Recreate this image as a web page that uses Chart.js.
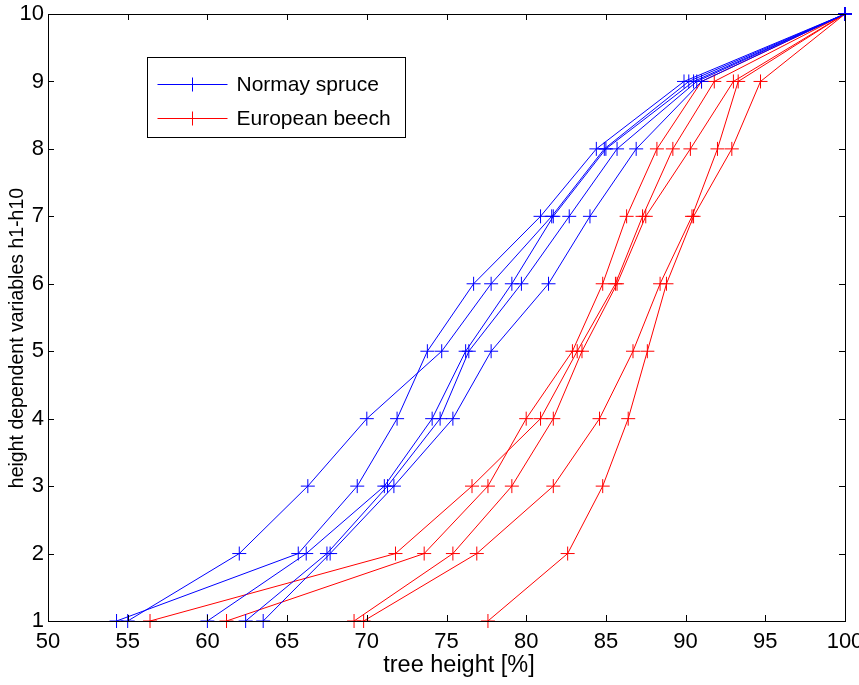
<!DOCTYPE html>
<html>
<head>
<meta charset="utf-8">
<script src="https://cdn.jsdelivr.net/npm/chart.js@4.4.0/dist/chart.umd.min.js"></script>
<style>
    html, body { margin: 0; padding: 0; background: #fff; }
</style>
</head>
<body>
<canvas id="myChart" width="859" height="685"></canvas>
<script>
// y levels h1..h10
const levels = [1, 2, 3, 4, 5, 6, 7, 8, 9, 10];

// Norway spruce, tree height [%] at each level
const spruceA = [55.0, 62.0, 66.3, 70.0, 74.7, 77.8, 81.6, 84.9, 90.2, 100];
const spruceB = [54.3, 65.7, 69.4, 71.9, 73.8, 76.7, 80.9, 84.4, 89.9, 100];
const spruceC = [60.0, 66.2, 71.1, 74.1, 76.2, 79.1, 81.7, 85.0, 90.5, 100];
const spruceD = [62.4, 67.5, 71.3, 74.6, 76.4, 79.7, 82.7, 85.7, 90.7, 100];
const spruceE = [63.5, 67.7, 71.7, 75.4, 77.8, 81.4, 84.0, 86.9, 91.0, 100];

// European beech
const beechA = [56.4, 71.8, 76.6, 80.9, 83.2, 85.6, 87.3, 89.2, 91.8, 100];
const beechB = [61.2, 73.6, 77.6, 80.0, 82.9, 84.8, 86.3, 88.2, 91.0, 100];
const beechC = [69.2, 75.4, 79.1, 81.7, 83.5, 85.7, 87.5, 90.3, 93.0, 100];
const beechD = [69.8, 76.9, 81.7, 84.6, 86.7, 88.4, 90.4, 92.0, 93.3, 100];
const beechE = [77.6, 82.6, 84.8, 86.4, 87.6, 88.8, 90.5, 92.9, 94.7, 100];

const seriesNames = ['Normay spruce', 'European beech'];
const seriesColors = ['#0000ff', '#ff0000'];
const xTitle = 'tree height [%]';
const yTitle = 'height dependent variables h1-h10';

const FONT = "'Liberation Sans', Arial, sans-serif";

function toPoints(xs) {
    return xs.map((x, i) => ({ x: x, y: levels[i] }));
}

function makeSet(xs, k, first) {
    return {
        label: first ? seriesNames[k] : '',
        data: toPoints(xs),
        borderColor: seriesColors[k],
        backgroundColor: seriesColors[k],
        borderWidth: 1,
        pointStyle: 'cross',
        pointRadius: 7,
        pointBorderWidth: 1,
        pointHoverRadius: 7,
        showLine: true,
        tension: 0,
        fill: false,
        clip: false
    };
}

const datasets = [
    makeSet(spruceA, 0, true),
    makeSet(spruceB, 0),
    makeSet(spruceC, 0),
    makeSet(spruceD, 0),
    makeSet(spruceE, 0),
    makeSet(beechA, 1, true),
    makeSet(beechB, 1),
    makeSet(beechC, 1),
    makeSet(beechD, 1),
    makeSet(beechE, 1)
];

// matlab style box with inward ticks, axis labels and legend inside the axes
const matlabAxes = {
    id: 'matlabAxes',
    afterDatasetsDraw(chart) {
        const ctx = chart.ctx;
        const a = chart.chartArea;
        const xs = chart.scales.x;
        const ys = chart.scales.y;
        const tl = 6;
        ctx.save();
        ctx.strokeStyle = '#000';
        ctx.lineWidth = 1;
        ctx.strokeRect(Math.round(a.left) + 0.5, Math.round(a.top) + 0.5,
            Math.round(a.right - a.left), Math.round(a.bottom - a.top));
        ctx.beginPath();
        xs.ticks.forEach(t => {
            const p = Math.round(xs.getPixelForValue(t.value)) + 0.5;
            ctx.moveTo(p, a.bottom); ctx.lineTo(p, a.bottom - tl);
            ctx.moveTo(p, a.top); ctx.lineTo(p, a.top + tl);
        });
        ys.ticks.forEach(t => {
            const p = Math.round(ys.getPixelForValue(t.value)) + 0.5;
            ctx.moveTo(a.left, p); ctx.lineTo(a.left + tl, p);
            ctx.moveTo(a.right, p); ctx.lineTo(a.right - tl, p);
        });
        ctx.stroke();

        // axis titles
        ctx.fillStyle = '#000';
        ctx.textAlign = 'center';
        ctx.textBaseline = 'middle';
        ctx.font = '23.5px ' + FONT;
        ctx.fillText(xTitle, a.left + 411, a.bottom + 45);
        ctx.save();
        ctx.translate(18, a.top + 324);
        ctx.rotate(-Math.PI / 2);
        ctx.font = '19.5px ' + FONT;
        ctx.fillText(yTitle, 0, 0);
        ctx.restore();

        // legend box
        const bx = Math.round(a.left) + 99.5;
        const by = Math.round(a.top) + 43.5;
        const bw = 258, bh = 80;
        ctx.fillStyle = '#fff';
        ctx.fillRect(bx, by, bw, bh);
        ctx.strokeRect(bx, by, bw, bh);
        ctx.font = '21px ' + FONT;
        ctx.textAlign = 'left';
        seriesNames.forEach((name, k) => {
            const cy = Math.round(by + 26 + k * 34) + 0.5;
            ctx.strokeStyle = seriesColors[k];
            ctx.beginPath();
            ctx.moveTo(bx + 10, cy); ctx.lineTo(bx + 80, cy);
            ctx.moveTo(bx + 45, cy - 7); ctx.lineTo(bx + 45, cy + 7);
            ctx.stroke();
            ctx.fillStyle = '#000';
            ctx.fillText(name, bx + 89, cy + 1);
        });
        ctx.restore();
    }
};

const config = {
    type: 'scatter',
    data: { datasets: datasets },
    options: {
        responsive: false,
        animation: false,
        events: [],
        layout: { padding: { top: 14, right: 14, left: 0, bottom: 0 } },
        plugins: {
            legend: { display: false },
            tooltip: { enabled: false }
        },
        scales: {
            x: {
                type: 'linear',
                min: 50,
                max: 100,
                grid: { display: false, drawTicks: false },
                border: { display: false },
                ticks: {
                    stepSize: 5,
                    color: '#000',
                    padding: 8,
                    font: { family: FONT, size: 22 }
                },
                afterFit(scale) {
                    scale.height = 64;
                    scale.paddingLeft = 0;
                    scale.paddingRight = 0;
                }
            },
            y: {
                type: 'linear',
                min: 1,
                max: 10,
                grid: { display: false, drawTicks: false },
                border: { display: false },
                ticks: {
                    stepSize: 1,
                    color: '#000',
                    padding: 4,
                    font: { family: FONT, size: 22 }
                },
                afterFit(scale) {
                    scale.width = 48;
                    scale.paddingTop = 0;
                    scale.paddingBottom = 0;
                }
            }
        }
    },
    plugins: [matlabAxes]
};

const myChart = new Chart(document.getElementById('myChart'), config);
</script>
</body>
</html>
